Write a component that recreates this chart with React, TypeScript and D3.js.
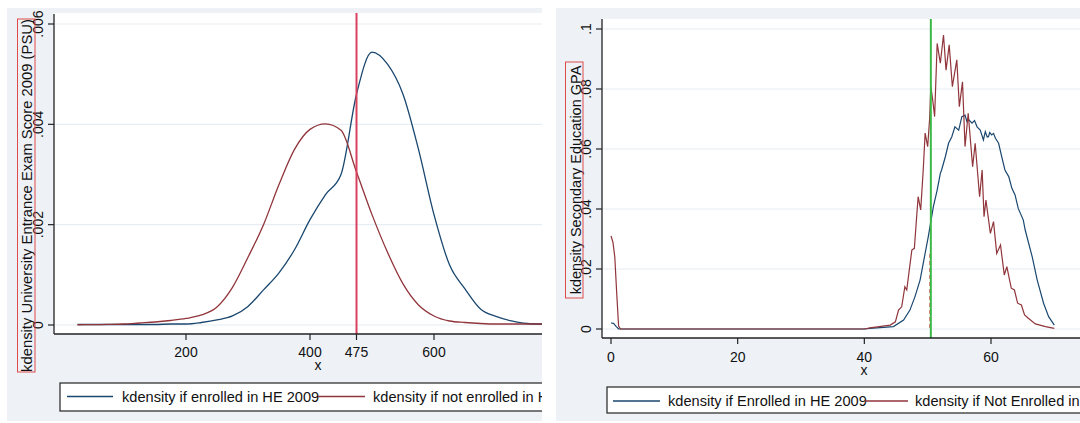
import React from 'react';
import * as d3 from 'd3';

// ---------- Left panel: University Entrance Exam Score (PSU) ----------
const psuScore = [25, 50, 75, 100, 125, 150, 175, 200, 225, 250, 275, 300, 325, 350, 375, 400, 425, 450, 475, 500, 525, 550, 575, 600, 625, 650, 675, 700, 725, 750, 775];
const psuEnrolled = [0.00001, 0.00001, 0.00001, 0.00001, 0.00001, 0.00001, 0.00002, 0.00002, 0.00005, 0.0001, 0.00018, 0.00037, 0.0007, 0.00104, 0.0015, 0.0021, 0.0026, 0.003, 0.0046, 0.00544, 0.0052, 0.0046, 0.0035, 0.0022, 0.0012, 0.00072, 0.00032, 0.00017, 0.00008, 0.00003, 0.00002];
const psuNotEnrolled = [0.000005, 0.000008, 0.000012, 0.00002, 0.00004, 0.00006, 0.00009, 0.00013, 0.0002, 0.00036, 0.00075, 0.00135, 0.002, 0.0028, 0.0035, 0.0039, 0.00401, 0.00388, 0.00305, 0.0022, 0.00145, 0.00082, 0.0004, 0.00018, 0.00008, 0.00005, 0.00003, 0.00002, 0.00002, 0.00002, 0.00002];
const psuTicksX = [200, 400, 475, 600];
const psuTicksY = [0, 0.002, 0.004, 0.006];
const psuTickLabelsY = ['0', '.002', '.004', '.006'];
const psuCutoff = 475;
const psuTitleY = 'kdensity University Entrance Exam Score 2009 (PSU)';
const psuLegend = ['kdensity if enrolled in HE 2009', 'kdensity if not enrolled in HE 2009'];

// ---------- Right panel: Secondary Education GPA ----------
const gpaEnrolledX = [0, 0.4, 0.8, 1.2, 40.0, 40.9, 44.6, 46.2, 47.2, 48.0, 48.8, 49.3, 50.1, 50.9, 51.5, 52.0, 52.2, 52.8, 53.3, 53.8, 54.3, 54.9, 55.4, 55.9, 56.2, 56.5, 57.0, 57.4, 57.8, 58.3, 58.8, 59.1, 59.4, 59.6, 59.8, 60.1, 60.4, 60.7, 61.2, 61.7, 62.2, 62.8, 63.3, 63.8, 64.3, 65.1, 65.4, 66.5, 67.3, 68.3, 69.1, 70.0];
const gpaEnrolledY = [0.002, 0.0019, 0.0009, 0, 0, 0.0002, 0.0008, 0.003, 0.0063, 0.0108, 0.0163, 0.0219, 0.0308, 0.0408, 0.0463, 0.0519, 0.053, 0.0575, 0.0619, 0.064, 0.0674, 0.0663, 0.0708, 0.0713, 0.0691, 0.0697, 0.0686, 0.0695, 0.0674, 0.0663, 0.063, 0.0658, 0.064, 0.0641, 0.0655, 0.0647, 0.0652, 0.0636, 0.0619, 0.0574, 0.053, 0.0508, 0.0469, 0.0447, 0.0402, 0.0363, 0.033, 0.0241, 0.0163, 0.0086, 0.0041, 0.0013];
const gpaNotEnrolledX = [0, 0.3, 0.6, 0.9, 1.2, 1.5, 40.0, 40.9, 44.1, 44.9, 45.4, 45.9, 46.4, 46.7, 47.1, 47.5, 47.9, 48.3, 48.5, 48.9, 49.3, 49.6, 50.0, 50.3, 50.5, 50.8, 51.1, 51.5, 52.0, 52.5, 52.9, 53.4, 53.9, 54.6, 55.0, 55.5, 55.9, 56.4, 57.1, 57.5, 58.2, 58.6, 58.9, 59.2, 59.9, 60.4, 60.9, 61.5, 62.1, 62.5, 63.2, 63.7, 64.2, 64.8, 65.3, 65.9, 67.0, 68.6, 70.0];
const gpaNotEnrolledY = [0.031, 0.029, 0.024, 0.012, 0.001, 0, 0, 0.0004, 0.0013, 0.0024, 0.0063, 0.0074, 0.0141, 0.013, 0.0197, 0.0263, 0.0269, 0.0386, 0.0441, 0.0397, 0.053, 0.0653, 0.0608, 0.0697, 0.0808, 0.0763, 0.0708, 0.0952, 0.0886, 0.098, 0.0863, 0.0947, 0.0808, 0.0897, 0.0741, 0.0824, 0.0608, 0.0719, 0.0541, 0.0619, 0.0441, 0.053, 0.0374, 0.043, 0.0319, 0.0358, 0.0252, 0.028, 0.018, 0.0208, 0.0136, 0.013, 0.0086, 0.008, 0.0047, 0.0036, 0.0017, 0.0008, 0.0002];
const gpaTicksX = [0, 20, 40, 60];
const gpaTicksY = [0, 0.02, 0.04, 0.06, 0.08, 0.1];
const gpaTickLabelsY = ['0', '.02', '.04', '.06', '.08', '.1'];
const gpaCutoff = 50.5;
const gpaShadowCutoff = 50.35;
const gpaShadowTop = 0.025;
const gpaTitleY = 'kdensity Secondary Education GPA';
const gpaLegend = ['kdensity if Enrolled in HE 2009', 'kdensity if Not Enrolled in HE 2009'];

const BLUE = '#1a476f';
const RED = '#90353b';
const BG = '#eef2f7';
const GRID = '#e6edf4';
const FONT = '"Liberation Sans", Arial, sans-serif';

export default function App() {
  // Left scales
  const lx = d3.scaleLinear().domain([200, 600]).range([186, 434]);
  const ly = d3.scaleLinear().domain([0, 0.006]).range([325, 24]);
  const lLine = (ys: number[]) =>
    d3.line<number>().x((_, i) => lx(psuScore[i])).y((d) => ly(d)).curve(d3.curveMonotoneX)(ys) || '';

  // Right scales
  const rx = d3.scaleLinear().domain([0, 60]).range([611, 991]);
  const ry = d3.scaleLinear().domain([0, 0.1]).range([329, 29]);
  const rLine = (xs: number[], ys: number[]) =>
    d3.line<number>().x((_, i) => rx(xs[i])).y((d) => ry(d)).curve(d3.curveLinear)(ys) || '';

  const L = { left: 54, right: 542, top: 13, bottom: 334 };
  const R = { left: 602, right: 1080, top: 19, bottom: 338 };

  return (
    <svg width={1080} height={423} style={{ position: 'absolute', left: 0, top: 0, fontFamily: FONT }}>
      <rect x={0} y={0} width={1080} height={423} fill="#ffffff" />
      <defs>
        <clipPath id="clipL"><rect x={L.left} y={L.top} width={L.right - L.left} height={L.bottom - L.top} /></clipPath>
        <clipPath id="clipR"><rect x={R.left} y={R.top} width={R.right - R.left} height={R.bottom - R.top} /></clipPath>
        <clipPath id="panelL"><rect x={7} y={8} width={535} height={415} /></clipPath>
        <clipPath id="panelR"><rect x={556} y={8} width={524} height={415} /></clipPath>
      </defs>

      {/* ---------------- Left panel ---------------- */}
      <rect x={7} y={8} width={535} height={413} fill={BG} />
      <rect x={L.left} y={L.top} width={L.right - L.left} height={L.bottom - L.top} fill="#ffffff" />
      {psuTicksY.map((t) => (
        <line key={'lg' + t} x1={L.left} x2={L.right} y1={ly(t)} y2={ly(t)} stroke={GRID} strokeWidth={1.2} />
      ))}
      <g clipPath="url(#clipL)" fill="none">
        <path d={lLine(psuEnrolled)} stroke={BLUE} strokeWidth={1.3} />
        <path d={lLine(psuNotEnrolled)} stroke={RED} strokeWidth={1.3} />
        <line x1={lx(psuCutoff)} x2={lx(psuCutoff)} y1={L.top} y2={L.bottom} stroke="#d9415e" strokeWidth={2} />
      </g>
      <line x1={L.left} x2={L.left} y1={L.top + 1} y2={L.bottom} stroke="#222" strokeWidth={1.3} />
      <line x1={L.left} x2={L.right} y1={L.bottom} y2={L.bottom} stroke="#222" strokeWidth={1.3} />
      {psuTicksY.map((t, i) => (
        <g key={'lty' + t}>
          <line x1={L.left - 6} x2={L.left} y1={ly(t)} y2={ly(t)} stroke="#222" strokeWidth={1.2} />
          <text transform={`translate(42.5,${ly(t)}) rotate(-90)`} textAnchor="middle" fontSize={14} fill="#111">
            {psuTickLabelsY[i]}
          </text>
        </g>
      ))}
      {psuTicksX.map((t) => (
        <g key={'ltx' + t}>
          <line x1={lx(t)} x2={lx(t)} y1={L.bottom} y2={L.bottom + 6} stroke="#222" strokeWidth={1.2} />
          <text x={lx(t)} y={357} textAnchor="middle" fontSize={14} fill="#111">{t}</text>
        </g>
      ))}
      <text x={318} y={370} textAnchor="middle" fontSize={14} fill="#111">x</text>
      <text transform={`translate(32,195.5) rotate(-90)`} textAnchor="middle" fontSize={14.8} fill="#111">{psuTitleY}</text>
      <rect x={17.5} y={19} width={17.5} height={353} fill="none" stroke="#e04a4a" strokeWidth={1} />
      <g clipPath="url(#panelL)">
        <rect x={60} y={383} width={500} height={28} fill="#ffffff" stroke="#222" strokeWidth={1.2} />
        <line x1={67} x2={113} y1={396.5} y2={396.5} stroke={BLUE} strokeWidth={1.3} />
        <text x={122} y={401.5} fontSize={14.6} fill="#111">{psuLegend[0]}</text>
        <line x1={318} x2={365} y1={396.5} y2={396.5} stroke={RED} strokeWidth={1.3} />
        <text x={373} y={401.5} fontSize={14.6} fill="#111">{psuLegend[1]}</text>
      </g>

      {/* ---------------- Right panel ---------------- */}
      <rect x={556} y={8} width={524} height={413} fill={BG} />
      <rect x={R.left} y={R.top} width={R.right - R.left} height={R.bottom - R.top} fill="#ffffff" />
      {gpaTicksY.map((t) => (
        <line key={'rg' + t} x1={R.left} x2={R.right} y1={ry(t)} y2={ry(t)} stroke={GRID} strokeWidth={1.2} />
      ))}
      <g clipPath="url(#clipR)" fill="none">
        <path d={rLine(gpaEnrolledX, gpaEnrolledY)} stroke={BLUE} strokeWidth={1.2} />
        <path d={rLine(gpaNotEnrolledX, gpaNotEnrolledY)} stroke={RED} strokeWidth={1.2} />
        <line x1={rx(gpaShadowCutoff)} x2={rx(gpaShadowCutoff)} y1={ry(gpaShadowTop)} y2={ry(0)} stroke="#e0505a" strokeWidth={1.2} strokeDasharray="4 3" />
        <line x1={rx(gpaCutoff)} x2={rx(gpaCutoff)} y1={R.top} y2={R.bottom} stroke="#3cb846" strokeWidth={2} />
      </g>
      <line x1={R.left} x2={R.left} y1={R.top} y2={R.bottom} stroke="#222" strokeWidth={1.3} />
      <line x1={R.left} x2={R.right} y1={R.bottom} y2={R.bottom} stroke="#222" strokeWidth={1.3} />
      {gpaTicksY.map((t, i) => (
        <g key={'rty' + t}>
          <line x1={R.left - 6} x2={R.left} y1={ry(t)} y2={ry(t)} stroke="#222" strokeWidth={1.2} />
          <text transform={`translate(591,${ry(t)}) rotate(-90)`} textAnchor="middle" fontSize={14} fill="#111">
            {gpaTickLabelsY[i]}
          </text>
        </g>
      ))}
      {gpaTicksX.map((t) => (
        <g key={'rtx' + t}>
          <line x1={rx(t)} x2={rx(t)} y1={R.bottom} y2={R.bottom + 6} stroke="#222" strokeWidth={1.2} />
          <text x={rx(t)} y={362} textAnchor="middle" fontSize={14} fill="#111">{t}</text>
        </g>
      ))}
      <text x={864} y={375} textAnchor="middle" fontSize={14} fill="#111">x</text>
      <text transform={`translate(581,180) rotate(-90)`} textAnchor="middle" fontSize={14.5} fill="#111">{gpaTitleY}</text>
      <rect x={565.5} y={62} width={17.5} height={236} fill="none" stroke="#e04a4a" strokeWidth={1} />
      <g clipPath="url(#panelR)">
        <rect x={607} y={387} width={500} height={26} fill="#ffffff" stroke="#222" strokeWidth={1.2} />
        <line x1={613} x2={660} y1={401} y2={401} stroke={BLUE} strokeWidth={1.3} />
        <text x={668} y={406} fontSize={14.6} fill="#111">{gpaLegend[0]}</text>
        <line x1={865} x2={908} y1={401} y2={401} stroke={RED} strokeWidth={1.3} />
        <text x={915} y={406} fontSize={14.6} fill="#111">{gpaLegend[1]}</text>
      </g>
    </svg>
  );
}
